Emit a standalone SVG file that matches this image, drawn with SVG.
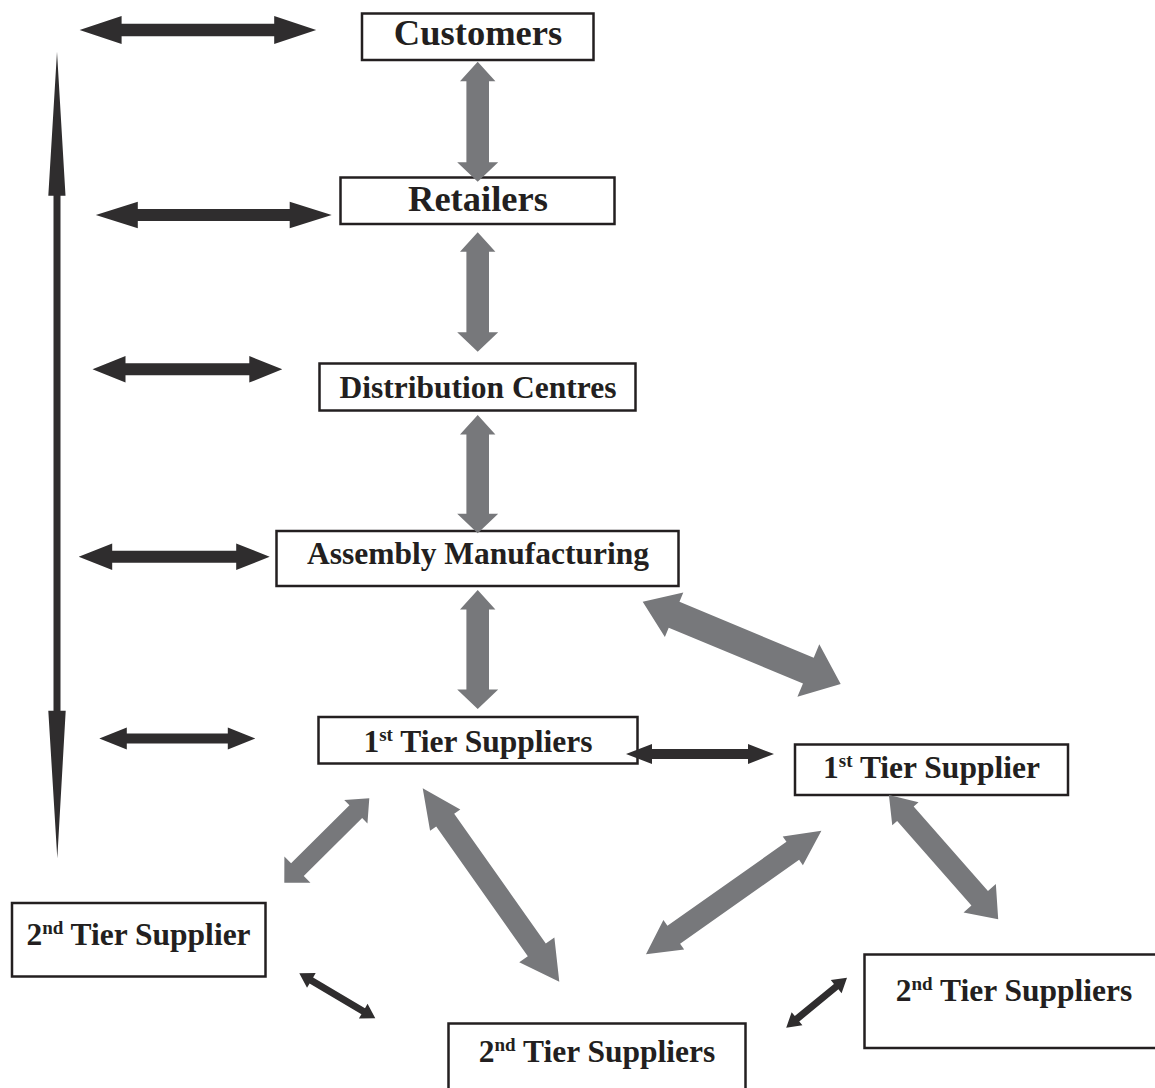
<svg xmlns="http://www.w3.org/2000/svg" width="1155" height="1088" viewBox="0 0 1155 1088">
<style>
.box{fill:#fff;stroke:#231f20;stroke-width:2.5}
.t{font-family:"Liberation Serif","Times New Roman",serif;font-weight:bold;fill:#231f20;text-anchor:middle}
.big{font-size:36.5px}
.mid{font-size:31.5px}
.sup{font-size:19px}
.dark{fill:#2f2d2e}
.gray{fill:#77787b}
</style>
<rect width="1155" height="1088" fill="#fff"/>
<g id="nodes">
<g id="customers"><rect class="box" x="362" y="13.5" width="231.5" height="46.5"/><text class="t big" x="478" y="45">Customers</text></g>
<g id="retailers"><rect class="box" x="340.5" y="177.5" width="274" height="46.5"/><text class="t big" x="478" y="210.5">Retailers</text></g>
<g id="distribution"><rect class="box" x="319.5" y="363.5" width="316" height="47"/><text class="t mid" x="478" y="398">Distribution Centres</text></g>
<g id="assembly"><rect class="box" x="276.5" y="531" width="402" height="55"/><text class="t mid" x="478" y="563.5">Assembly Manufacturing</text></g>
<g id="tier1-main"><rect class="box" x="318.5" y="717" width="319" height="46.5"/><text class="t mid" x="478" y="751.5">1<tspan class="sup" dy="-11">st</tspan><tspan dy="11"> Tier Suppliers</tspan></text></g>
<g id="tier1-right"><rect class="box" x="795" y="744.5" width="273" height="50.5"/><text class="t mid" x="931.5" y="777.5">1<tspan class="sup" dy="-11">st</tspan><tspan dy="11"> Tier Supplier</tspan></text></g>
<g id="tier2-left"><rect class="box" x="12" y="903" width="253.5" height="73.5"/><text class="t mid" x="138.5" y="945">2<tspan class="sup" dy="-11">nd</tspan><tspan dy="11"> Tier Supplier</tspan></text></g>
<g id="tier2-center"><rect class="box" x="448.5" y="1023.5" width="297" height="80"/><text class="t mid" x="597" y="1061.5">2<tspan class="sup" dy="-11">nd</tspan><tspan dy="11"> Tier Suppliers</tspan></text></g>
<g id="tier2-right"><rect class="box" x="864.5" y="954.5" width="300" height="93.5"/><text class="t mid" x="1014" y="1000.5">2<tspan class="sup" dy="-11">nd</tspan><tspan dy="11"> Tier Suppliers</tspan></text></g>
</g>
<g id="connectors">
<polygon class="dark" points="57,51.7 65.5,195.7 60.5,195.7 60.5,710.7 65.7,710.7 57.3,858.3 48.3,710.7 53.5,710.7 53.5,195.7 48.3,195.7"/>
<polygon class="dark" points="79.6,30 121.6,16 121.6,23.7 274.2,23.7 274.2,16 316.2,30 274.2,44 274.2,36.3 121.6,36.3 121.6,44"/>
<polygon class="dark" points="95.8,215 137.8,201.7 137.8,209 289.7,209 289.7,201.7 331.7,215 289.7,228.3 289.7,221 137.8,221 137.8,228.3"/>
<polygon class="dark" points="92.5,369.3 125.5,356 125.5,363.3 249.3,363.3 249.3,356 282.3,369.3 249.3,382.6 249.3,375.3 125.5,375.3 125.5,382.6"/>
<polygon class="dark" points="78.7,556.7 112.2,543.4 112.2,550.7 236.2,550.7 236.2,543.4 269.7,556.7 236.2,570 236.2,562.7 112.2,562.7 112.2,570"/>
<polygon class="dark" points="99.3,738.5 126.8,727.5 126.8,733.5 227.8,733.5 227.8,727.5 255.3,738.5 227.8,749.5 227.8,743.5 126.8,743.5 126.8,749.5"/>
<polygon class="dark" points="626,754 652,744 652,749 748,749 748,744 774,754 748,764 748,759 652,759 652,764"/>
<polygon class="gray" points="477.7,61.7 495.4,81.2 489,81.2 489,162.2 498.2,162.2 477.7,181.7 457.2,162.2 466.4,162.2 466.4,81.2 460,81.2"/>
<polygon class="gray" points="477.7,232.3 495.4,251.8 489,251.8 489,332.2 498.2,332.2 477.7,351.7 457.2,332.2 466.4,332.2 466.4,251.8 460,251.8"/>
<polygon class="gray" points="477.7,415 495.4,434.5 489,434.5 489,513.8 498.2,513.8 477.7,533.3 457.2,513.8 466.4,513.8 466.4,434.5 460,434.5"/>
<polygon class="gray" points="477.7,590 495.4,609.5 489,609.5 489,689.5 498.2,689.5 477.7,709 457.2,689.5 466.4,689.5 466.4,609.5 460,609.5"/>
<polygon class="gray" transform="translate(642.7 601.7) rotate(22.57)" points="0,0 34,-24 34,-14 179.4,-14 179.4,-28.5 214.4,0 179.4,28.5 179.4,14 34,14 34,24"/>
<polygon class="gray" transform="translate(369.3 798.3) rotate(135.2)" points="0,0 19,-16.5 19,-9 101.3,-9 101.3,-18.5 119.8,0 101.3,18.5 101.3,9 19,9 19,16.5"/>
<polygon class="gray" transform="translate(422.7 788.3) rotate(54.77)" points="0,0 39,-18.5 39,-11 197.8,-11 197.8,-21.5 236.8,0 197.8,21.5 197.8,11 39,11 39,18.5"/>
<polygon class="gray" transform="translate(821.4 830.7) rotate(144.83)" points="0,0 35,-17.5 35,-11 180.6,-11 180.6,-18 214.6,0 180.6,18 180.6,11 35,11 35,17.5"/>
<polygon class="gray" transform="translate(888.9 795) rotate(48.67)" points="0,0 25,-17.5 25,-11 137.5,-11 137.5,-21.5 165.5,0 137.5,21.5 137.5,11 25,11 25,17.5"/>
<polygon class="dark" transform="translate(299.3 973.3) rotate(30.63)" points="0,0 14,-8.5 14,-3.5 74.3,-3.5 74.3,-8.5 88.3,0 74.3,8.5 74.3,3.5 14,3.5 14,8.5"/>
<polygon class="dark" transform="translate(847 977.7) rotate(140.57)" points="0,0 14,-8.5 14,-3.5 64.7,-3.5 64.7,-8.5 78.7,0 64.7,8.5 64.7,3.5 14,3.5 14,8.5"/>
</g>
</svg>
